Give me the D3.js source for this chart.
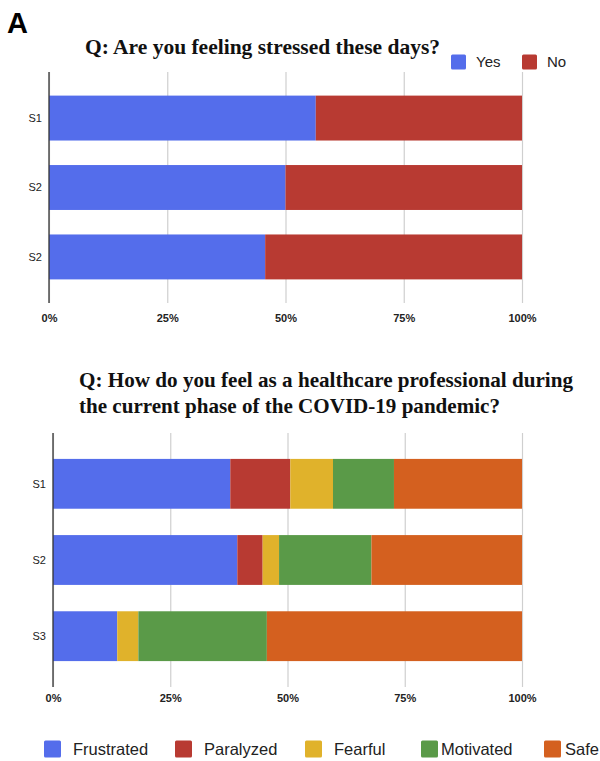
<!DOCTYPE html>
<html><head><meta charset="utf-8">
<script src="https://cdn.jsdelivr.net/npm/d3@7"></script>
<style>body{margin:0;background:#fff}svg{display:block}</style>
</head><body>
<svg id="c" width="600" height="761"></svg>
<script>
// ---- data ----
const cats1 = ["S1", "S2", "S2"];
const keys1 = ["Yes", "No"];
const yes1 = [56.4, 50.0, 45.7];
const no1 = [43.6, 50.0, 54.3];

const cats2 = ["S1", "S2", "S3"];
const keys2 = ["Frustrated", "Paralyzed", "Fearful", "Motivated", "Safe"];
const frustrated = [37.8, 39.3, 13.7];
const paralyzed = [12.8, 5.4, 0];
const fearful = [9.1, 3.5, 4.5];
const motivated = [13.0, 19.7, 27.4];
const safe = [27.3, 32.1, 54.4];

const ticks = [0, 25, 50, 75, 100];
const tickLabels = ["0%", "25%", "50%", "75%", "100%"];

const colors = {Yes:"#546deb", No:"#b83a32", Frustrated:"#546deb", Paralyzed:"#b83a32",
  Fearful:"#e0b22b", Motivated:"#5a9a48", Safe:"#d4601f"};

const svg = d3.select("#c");

svg.append("text").attr("x", 7).attr("y", 33).text("A")
  .attr("font-family", "Liberation Sans, Arial, sans-serif").attr("font-weight", "bold").attr("font-size", 29).attr("fill","#000");

function chart(cfg) {
  const rows = cfg.cats.map((c, i) => {
    const r = {cat: c, idx: i};
    cfg.keys.forEach((k, j) => r[k] = cfg.series[j][i]);
    return r;
  });
  const x = d3.scaleLinear().domain([0, 100]).range([cfg.x0, cfg.x1]);
  const y = d3.scaleBand().domain(d3.range(cfg.cats.length)).range([cfg.top, cfg.bottom])
    .paddingInner(cfg.pi).paddingOuter(cfg.po);
  const g = svg.append("g");
  // gridlines
  g.append("g").attr("transform", `translate(0,${cfg.bottom})`)
    .call(d3.axisBottom(x).tickValues(ticks).tickSize(-(cfg.bottom - cfg.top)).tickFormat((d, i) => tickLabels[i]).tickPadding(cfg.tp))
    .call(a => a.select(".domain").remove())
    .call(a => a.selectAll(".tick line").attr("stroke", "#cfcfcf").attr("stroke-width", 1.2))
    .call(a => a.selectAll(".tick text").attr("font-family", "Liberation Sans, Arial, sans-serif")
      .attr("font-size", 11).attr("fill", "#222").attr("font-weight","bold").attr("dy","0.9em"));
  const stack = d3.stack().keys(cfg.keys)(rows);
  g.append("g").selectAll("g").data(stack).join("g").attr("fill", s => colors[s.key])
    .selectAll("rect").data(s => s).join("rect")
    .attr("x", d => x(d[0])).attr("width", d => Math.max(0, x(d[1]) - x(d[0])))
    .attr("y", d => y(d.data.idx)).attr("height", y.bandwidth());
  // left axis line
  g.append("line").attr("x1", x(0)).attr("x2", x(0)).attr("y1", cfg.top).attr("y2", cfg.bottom)
    .attr("stroke", "#333").attr("stroke-width", 1.3);
  // category labels
  g.append("g").selectAll("text").data(rows).join("text")
    .attr("x", cfg.labelX).attr("y", d => y(d.idx) + y.bandwidth() / 2).attr("dy", "0.35em")
    .attr("text-anchor", "end").attr("font-family", "Liberation Sans, Arial, sans-serif")
    .attr("font-size", 11).attr("fill", "#222").text(d => d.cat);
}

chart({cats: cats1, keys: keys1, series: [yes1, no1], x0: 49, x1: 522, top: 72, bottom: 303, pi: 0.353, po: 0.34, labelX: 42, tp: 9});
chart({cats: cats2, keys: keys2, series: [frustrated, paralyzed, fearful, motivated, safe], x0: 53, x1: 522, top: 433, bottom: 687, pi: 0.346, po: 0.34, labelX: 46, tp: 5});

// titles
const tf = "Liberation Serif, Times New Roman, serif";
function title(x, y, txt, len) {
  svg.append("text").attr("x", x).attr("y", y).attr("font-family", tf).attr("font-weight", "bold")
    .attr("font-size", 21.5).attr("fill", "#111").attr("textLength", len).attr("lengthAdjust", "spacingAndGlyphs").text(txt);
}
title(85, 54, "Q: Are you feeling stressed these days?", 355);
title(79, 387, "Q: How do you feel as a healthcare professional during", 494);
title(79, 413, "the current phase of the COVID-19 pandemic?", 421);

// legends
function legend(items, xs, txs, cy, size, fs) {
  const g = svg.append("g");
  items.forEach((k, i) => {
    g.append("rect").attr("x", xs[i]).attr("y", cy - size / 2).attr("width", size).attr("height", size)
      .attr("rx", 1.5).attr("fill", colors[k]);
    g.append("text").attr("x", txs[i]).attr("y", cy).attr("dy", "0.35em")
      .attr("font-family", "Liberation Sans, Arial, sans-serif").attr("font-size", fs).attr("fill", "#222").text(k);
  });
}
legend(keys1, [451, 522], [476, 547], 62, 15, 15);
legend(keys2, [44, 175, 305, 421, 544], [73, 204, 334, 441, 565], 749, 17, 16.5);
</script>
</body></html>
